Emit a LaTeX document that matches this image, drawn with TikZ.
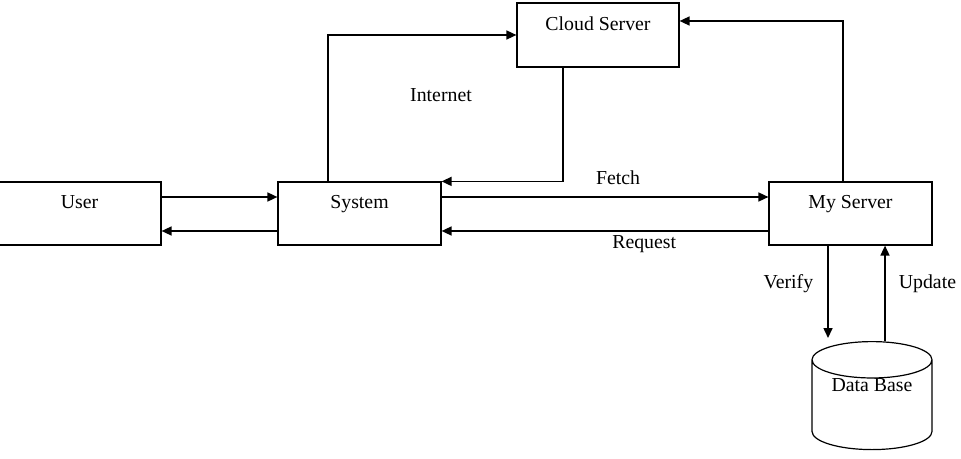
\documentclass[tikz,border=0pt]{standalone}
\usepackage{fontspec}
\setmainfont{Liberation Serif}
\usetikzlibrary{arrows.meta,shapes.geometric}

\begin{document}
\begin{tikzpicture}[x=0.5pt, y=-0.5pt,
    every node/.style={font=\fontsize{9.9}{11.9}\selectfont},
    box/.style={draw, line width=.6pt, minimum width=81.5pt, minimum height=31.5pt, inner sep=0pt, text height=7pt, text depth=11.5pt},
    store/.style={draw, line width=.6pt, cylinder, shape border rotate=90, aspect=.45, minimum width=60pt, minimum height=54pt, inner sep=0pt, text height=6.5pt, text depth=19.5pt},
    link/.style={line width=.8pt, -{Triangle[length=5pt, width=4.5pt]}}]
    \useasboundingbox (0,0) rectangle (961,459);
    \draw (79.5,213.5) node[box] (user) {User};
    \draw (359.5,213.5) node[box] (sys) {System};
    \draw (598,35) node[box, minimum width=81pt, minimum height=32pt] (cloud) {Cloud Server};
    \draw (850.5,213.5) node[box] (my) {My Server};
    \draw (872,341) node[store, anchor=north] (base) {Data Base};
    \draw (441,95) node (internet) {Internet};
    \draw [link] ([yshift=8.25pt]user.east) -- ([yshift=8.25pt]sys.west);
    \draw [link] ([yshift=-8.75pt]sys.west) -- ([yshift=-8.75pt]user.east);
    \draw [link] ([yshift=8.25pt]sys.east) -- node[above=2.5pt, pos=.54] (fetch) {Fetch} ([yshift=8.25pt]my.west);
    \draw [link] ([yshift=-8.75pt]my.west) -- node[below=-1.5pt, pos=.38] (request) {Request} ([yshift=-8.75pt]sys.east);
    \draw [link] ([xshift=-15.75pt]sys.north) |- (cloud.west);
    \draw [link] ([xshift=-17.5pt]cloud.south) |- (sys.north east);
    \draw [link] ([xshift=-3.75pt]my.north) |- ([yshift=7pt]cloud.east);
    \draw [link, shorten >=1.5pt] ([xshift=-11.25pt]my.south) -- node[left=3.7pt, pos=.4] (verify) {Verify} ([xshift=-11.25pt]my.south |- base.north);
    \draw [link] ([xshift=17.25pt]my.south |- base.north) -- node[right=3.2pt, pos=.6] (update) {Update} ([xshift=17.25pt]my.south);
\end{tikzpicture}
\end{document}
